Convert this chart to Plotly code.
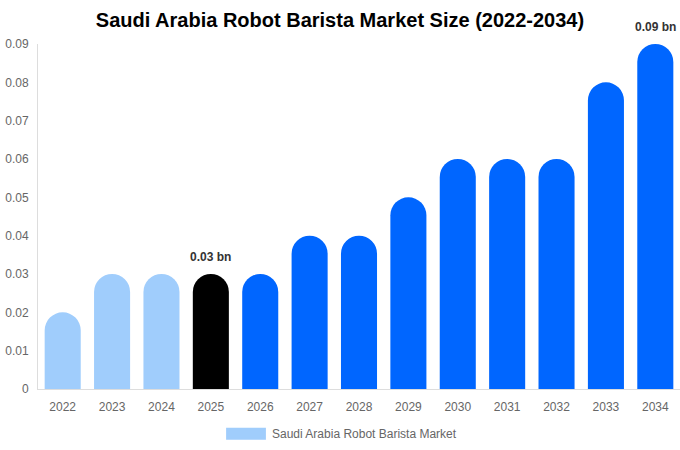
import plotly.graph_objects as go

years = [str(y) for y in range(2022, 2035)]
values = [0.02, 0.03, 0.03, 0.03, 0.03, 0.04, 0.04, 0.05, 0.06, 0.06, 0.06, 0.08, 0.09]
bar_colors = ["#a0cdfc"] * 3 + ["#000000"] + ["#0066ff"] * 9
labels = ["", "", "", "0.03 bn", "", "", "", "", "", "", "", "", "0.09 bn"]

fig = go.Figure(
    go.Bar(
        x=years,
        y=values,
        marker=dict(color=bar_colors, cornerradius="50%", line=dict(width=0)),
        showlegend=False,
        hovertemplate="%{x}: %{y} bn<extra></extra>",
    )
)

# value labels above the highlighted bars
# (category index used for x, numeric-looking strings get read as indices)
for i, (v, lab) in enumerate(zip(values, labels)):
    if lab:
        fig.add_annotation(
            x=i, y=v, text="<b>" + lab + "</b>", showarrow=False,
            yanchor="bottom", yshift=8,
            font=dict(size=12, color="#333333"),
        )

# legend drawn by hand to get the wide swatch
fig.add_shape(
    type="rect", xref="paper", yref="paper",
    x0=0.293, x1=0.355, y0=-0.147, y1=-0.112,
    fillcolor="#a0cdfc", line=dict(width=0),
)
fig.add_annotation(
    text="Saudi Arabia Robot Barista Market",
    xref="paper", yref="paper", x=0.362, y=-0.129,
    xanchor="left", yanchor="middle", showarrow=False,
    font=dict(size=12, color="#666666"),
)

fig.update_layout(
    width=680,
    height=450,
    margin=dict(l=38, r=0, t=44, b=61),
    paper_bgcolor="white",
    plot_bgcolor="white",
    font=dict(family="Liberation Sans, Arial", size=12, color="#666666"),
    title=dict(
        text="<b>Saudi Arabia Robot Barista Market Size (2022-2034)</b>",
        x=0.5, xanchor="center", y=0.955, yanchor="middle",
        font=dict(size=20, color="#000000"),
    ),
    bargap=0.27,
    xaxis=dict(
        type="category", range=[-0.5, len(years) - 0.5],
        showgrid=False, showline=True, linecolor="#dddddd", linewidth=1,
        ticks="", ticklabelstandoff=7, tickfont=dict(size=12, color="#666666"),
    ),
    yaxis=dict(
        range=[0, 0.09], dtick=0.01, showgrid=False, zeroline=False,
        showline=True, linecolor="#dddddd", linewidth=1,
        tickformat=".2~f", ticks="", ticklabelstandoff=6,
        tickfont=dict(size=12, color="#666666"),
    ),
)

fig.write_html(
    "out.html",
    config={"displayModeBar": False},
    post_script="document.body.style.margin='0';",
)
